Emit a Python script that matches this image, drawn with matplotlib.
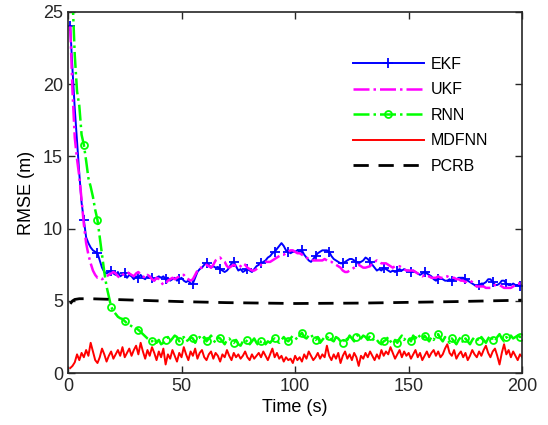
import numpy as np
import matplotlib
matplotlib.use('Agg')
import matplotlib.pyplot as plt

plt.rcParams['font.family'] = ['Liberation Sans', 'DejaVu Sans']

# time axis (s)
t = np.arange(1, 201)

ekf = [24.0, 21.0, 18.3, 16.0, 13.8, 11.8, 10.6, 9.4, 9.0, 8.7,
       8.5, 8.4, 8.3, 7.8, 7.3, 7.0, 6.9, 7.0, 7.1, 6.9,
       6.8, 7.0, 6.7, 6.8, 6.9, 6.6, 6.8, 6.7, 6.5, 6.7,
       6.6, 6.8, 6.6, 6.5, 6.7, 6.6, 6.6, 6.4, 6.6, 6.7,
       6.6, 6.7, 6.5, 6.6, 6.4, 6.5, 6.6, 6.4, 6.5, 6.6,
       6.4, 6.3, 6.4, 6.2, 6.2, 6.6, 7.0, 7.2, 7.3, 7.5,
       7.6, 7.5, 7.3, 7.4, 7.3, 7.35, 7.2, 7.1, 7.0, 7.1,
       7.3, 7.6, 7.7, 7.4, 7.1, 7.2, 7.0, 7.1, 7.2, 7.1,
       7.0, 7.2, 7.4, 7.5, 7.6, 7.7, 7.8, 8.0, 8.1, 8.3,
       8.4, 8.6, 8.8, 9.0, 8.8, 8.5, 8.4, 8.3, 8.4, 8.4,
       8.5, 8.4, 8.5, 8.2, 8.0, 7.8, 7.7, 7.9, 8.1, 8.3,
       8.4, 8.5, 8.5, 8.5, 8.4, 8.1, 7.9, 7.8, 7.7, 7.6,
       7.6, 7.7, 7.8, 7.9, 7.9, 7.8, 7.7, 7.6, 7.7, 7.8,
       8.0, 7.9, 7.7, 7.5, 7.3, 7.1, 7.2, 7.1, 7.3, 7.2,
       7.1, 7.0, 7.1, 7.0, 7.1, 7.2, 7.1, 7.2, 7.1, 7.1,
       7.0, 7.1, 7.0, 6.9, 6.8, 6.9, 7.0, 6.9, 6.8, 6.7,
       6.5, 6.4, 6.5, 6.6, 6.5, 6.4, 6.4, 6.5, 6.4, 6.5,
       6.5, 6.6, 6.6, 6.6, 6.5, 6.4, 6.3, 6.2, 6.1, 6.0,
       6.1, 6.2, 6.2, 6.3, 6.5, 6.5, 6.3, 6.1, 6.1, 6.2,
       6.4, 6.4, 6.2, 6.1, 6.1, 6.2, 6.1, 6.1, 6.0, 6.1]

ukf = [24.0, 19.5, 16.3, 14.8, 13.6, 12.0, 10.3, 9.0, 8.2, 7.6,
       7.1, 6.8, 6.6, 6.6, 6.5, 6.6, 6.7, 6.8, 6.9, 7.0,
       6.9, 6.7, 6.6, 6.8, 6.9, 7.0, 6.9, 6.8, 6.7, 6.9,
       7.0, 6.8, 6.7, 6.6, 6.8, 6.7, 6.5, 6.4, 6.6, 6.5,
       6.3, 6.1, 6.2, 6.4, 6.5, 6.6, 6.5, 6.6, 6.7, 6.8,
       6.8, 6.6, 6.5, 6.4, 6.5, 6.8, 7.1, 7.3, 7.3, 7.4,
       7.5, 7.4, 7.3, 7.5, 7.8, 7.9, 8.0, 7.8, 7.7, 7.4,
       7.3, 7.4, 7.5, 7.4, 7.3, 7.4, 7.6, 7.5, 7.3, 7.2,
       7.1, 7.1, 7.2, 7.3, 7.5, 7.6, 7.7, 7.7, 7.7, 7.8,
       7.9, 8.0, 8.1, 8.2, 8.2, 8.3, 8.4, 8.5, 8.5, 8.4,
       8.3, 8.3, 8.2, 8.1, 8.0, 7.9, 7.9, 7.8, 7.8, 7.8,
       7.8, 7.8, 7.9, 7.8, 7.7, 7.7, 7.6, 7.5, 7.4, 7.3,
       7.1, 7.0, 7.0, 7.1, 7.2, 7.3, 7.4, 7.5, 7.4, 7.3,
       7.3, 7.35, 7.4, 7.6, 7.7, 7.8, 7.7, 7.6, 7.6, 7.6,
       7.5, 7.4, 7.3, 7.4, 7.4, 7.4, 7.3, 7.2, 7.1, 7.1,
       7.1, 7.1, 7.0, 6.9, 6.8, 6.7, 6.8, 6.7, 6.7, 6.6,
       6.6, 6.6, 6.7, 6.6, 6.6, 6.7, 6.7, 6.6, 6.6, 6.6,
       6.5, 6.5, 6.4, 6.4, 6.3, 6.4, 6.4, 6.3, 6.1, 6.0,
       6.0, 6.0, 6.0, 5.9, 5.9, 5.9, 6.0, 6.1, 6.1, 6.1,
       6.0, 5.9, 5.9, 5.9, 5.9, 6.0, 6.1, 6.2, 6.2, 6.2]

rnn = [33.0, 26.0, 22.0, 19.5, 18.5, 16.5, 15.8, 14.7, 13.5, 12.9,
       12.2, 11.3, 10.6, 9.4, 8.2, 7.0, 6.0, 5.3, 4.6, 4.3,
       4.1, 3.9, 3.8, 3.75, 3.6, 3.45, 3.35, 3.25, 3.15, 3.1,
       3.0, 2.85, 2.7, 2.55, 2.4, 2.3, 2.2, 2.4, 2.1, 2.3,
       2.0, 2.1, 2.3, 2.5, 2.2, 2.4, 2.6, 2.5, 2.2, 2.4,
       2.5, 2.2, 2.3, 2.5, 2.4, 2.1, 2.4, 2.5, 2.3, 2.5,
       2.2, 2.4, 2.6, 2.3, 2.1, 2.5, 2.4, 2.2, 2.0, 2.3,
       2.4, 2.2, 2.1, 2.3, 2.0, 1.9, 2.2, 2.1, 2.3, 2.0,
       2.2, 2.4, 2.1, 1.9, 2.2, 2.3, 2.0, 2.2, 2.1, 2.3,
       2.4, 2.2, 2.1, 2.3, 2.5, 2.3, 2.2, 2.4, 2.6, 2.5,
       2.3, 2.6, 2.8, 2.5, 2.4, 2.6, 2.7, 2.4, 2.3, 2.5,
       2.1, 2.3, 2.5, 2.4, 2.6, 2.3, 2.2, 2.5, 2.4, 2.2,
       2.1, 2.5, 2.3, 2.6, 2.4, 2.2, 2.5, 2.7, 2.4, 2.6,
       2.5, 2.3, 2.6, 2.4, 2.2, 2.3, 2.1, 2.0, 2.2, 2.3,
       2.5, 2.2, 2.0, 2.3, 2.1, 2.4, 2.6, 2.3, 2.5, 2.4,
       2.2, 2.6, 2.4, 2.7, 2.5, 2.3, 2.6, 2.4, 2.2, 2.5,
       2.3, 2.6, 2.7, 2.4, 2.2, 2.5, 2.3, 2.1, 2.4, 2.2,
       2.0, 2.3, 2.5, 2.1, 2.4, 2.2, 2.0, 2.3, 2.5, 2.4,
       2.2, 2.5, 2.3, 2.1, 2.4, 2.6, 2.3, 2.2, 2.5, 2.7,
       2.4, 2.2, 2.5, 2.3, 2.6, 2.4, 2.5, 2.6, 2.5, 2.6]

mdfnn = [0.35, 0.5, 0.75, 1.3, 0.9, 1.4, 1.1, 1.6, 1.2, 2.1,
         1.5, 0.9, 0.7, 1.1, 1.7, 1.3, 0.8, 1.2, 1.5, 1.0,
         1.3, 1.6, 1.2, 1.8, 1.1, 1.4, 1.7, 1.2, 1.6, 1.9,
         1.3, 2.1, 1.5, 1.0, 1.6, 1.2, 1.8, 1.4, 0.9, 1.5,
         1.1, 1.7, 0.6, 1.3, 1.0, 1.6, 1.2, 0.8, 1.4, 1.1,
         1.8, 1.3, 0.9, 1.5, 1.2, 1.7, 1.0, 1.4, 1.6, 1.1,
         0.9, 1.3, 1.5, 1.0, 1.4, 1.2, 0.8, 1.3, 1.1, 1.6,
         1.2, 0.9, 1.4, 1.1, 1.3, 1.0, 1.2, 1.5, 1.1, 0.9,
         1.3, 1.0, 1.2, 1.4, 1.1, 1.5, 1.2, 0.9, 1.3, 1.7,
         1.1, 1.4, 1.0, 1.2, 0.8, 1.1, 0.9, 1.0, 0.7, 1.2,
         0.9, 1.1, 0.8, 1.3, 1.0, 1.5, 1.2, 0.9, 1.1, 1.4,
         1.0, 1.3, 1.1, 1.9, 1.2, 0.9, 1.3, 1.0, 1.4, 0.7,
         1.2, 1.5, 1.0, 1.3, 0.9, 1.4, 1.1, 0.5, 1.2, 1.0,
         1.4, 1.1, 1.5, 1.2, 0.9, 1.3, 1.0, 1.6, 1.2, 1.5,
         1.3, 1.8, 1.4, 1.0, 1.3, 1.6, 1.1, 1.5, 1.2, 1.4,
         1.0, 1.3, 1.6, 1.1, 1.4, 0.9, 1.2, 1.5, 1.1, 1.4,
         1.6, 1.2, 1.5, 1.1, 1.3, 1.7, 2.0, 1.4, 1.2, 1.6,
         1.0, 1.3, 1.5, 1.1, 1.4, 0.9, 1.2, 1.6, 1.3, 1.1,
         1.5, 1.2, 1.6, 1.9, 1.4, 1.1, 1.5, 1.7, 1.2, 0.6,
         1.4, 2.0, 1.3, 1.6, 1.1, 1.5, 1.2, 0.9, 1.3, 1.1]

pcrb_t = [1, 2, 3, 5, 10, 20, 30, 50, 70, 100, 130, 150, 170, 200]
pcrb = [4.8, 5.0, 5.1, 5.15, 5.15, 5.1, 5.05, 4.95, 4.88, 4.82, 4.85, 4.9, 4.95, 5.05]

fig = plt.figure(figsize=(5.48, 4.25), dpi=100)
ax = fig.add_axes([0.124, 0.122, 0.829, 0.850])

ax.plot(t, ekf, '-', color='#0000FF', lw=1.4, marker='+', ms=6.5, mew=1.3, markevery=6, label='EKF')
ax.plot(t, ukf, '-.', color='#FF00FF', lw=1.8, label='UKF')
ax.plot(t, rnn, '-.', color='#00FF00', lw=1.8, marker='o', ms=5, mfc='none', mew=1.3, markevery=6, label='RNN')
ax.plot(t, mdfnn, '-', color='#FF0000', lw=1.4, label='MDFNN')
ax.plot(pcrb_t, pcrb, color='k', lw=2.0, dashes=(5.5, 3.5), label='PCRB')

ax.set_xlim(0, 200)
ax.set_ylim(0, 25)
ax.set_xticks([0, 50, 100, 150, 200])
ax.set_yticks([0, 5, 10, 15, 20, 25])
ax.tick_params(direction='in', top=True, right=True, length=5, width=1, labelsize=13, colors='#262626')
for s in ax.spines.values():
    s.set_linewidth(1.2)
    s.set_color('#262626')
ax.set_xlabel('Time (s)', fontsize=13, labelpad=3)
ax.set_ylabel('RMSE (m)', fontsize=13, labelpad=6)

ax.legend(loc='upper left', bbox_to_anchor=(0.628, 0.876), frameon=False, fontsize=11.5,
          handlelength=4.4, handletextpad=0.45, labelspacing=0.66, borderpad=0, borderaxespad=0)

plt.savefig('out.png', dpi=100)
